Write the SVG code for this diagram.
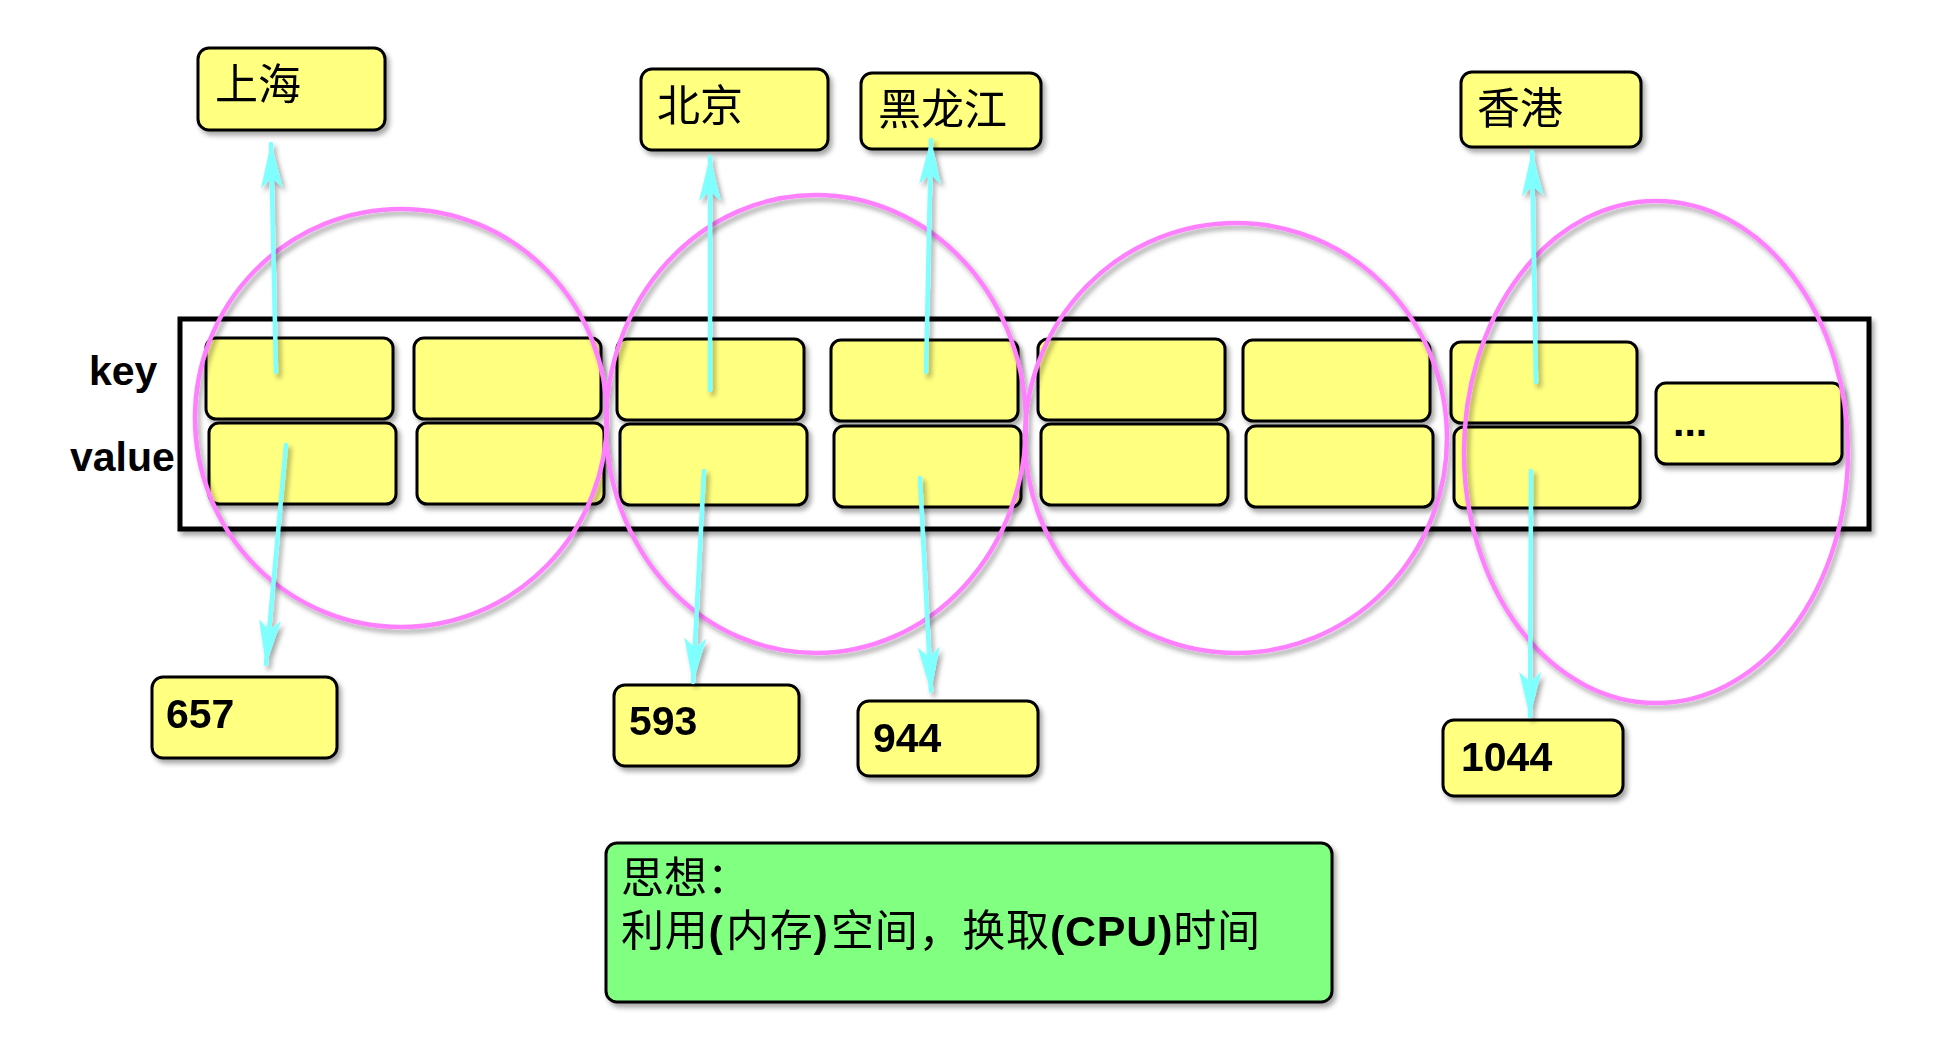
<svg xmlns="http://www.w3.org/2000/svg" width="1940" height="1053" viewBox="0 0 1940 1053">
<style>
.cell{fill:#FFFF80;stroke:#000;stroke-width:3}
.green{fill:#80FF80;stroke:#000;stroke-width:3}
.frame{fill:#fff;stroke:#000;stroke-width:5}
.ring{fill:none;stroke:#FF80FF;stroke-width:4.5}
.arr{fill:none;stroke:#80FFFF;stroke-width:4.5;stroke-linecap:round}
.cn{font-family:"Noto Sans CJK SC","Noto Sans",sans-serif;font-size:43px;fill:#000}
.num{font-family:"Liberation Sans",Arial,sans-serif;font-weight:bold;font-size:41px;fill:#000}
.b{font-family:"Liberation Sans",Arial,sans-serif;font-weight:bold}
</style>
<defs>
<filter id="sh" filterUnits="userSpaceOnUse" x="0" y="0" width="1940" height="1053">
<feDropShadow dx="3" dy="4" stdDeviation="2.5" flood-color="#000" flood-opacity="0.35"/>
</filter>
<marker id="ah" markerUnits="userSpaceOnUse" viewBox="-46 -13 48 26" markerWidth="48" markerHeight="26" refX="0" refY="0" orient="auto">
<path d="M1,0 L-44,-11 L-34,0 L-44,11 Z" fill="#80FFFF"/>
</marker>
</defs>
<rect width="1940" height="1053" fill="#fff"/>

<g id="container" filter="url(#sh)">
<rect class="frame" x="180" y="319" width="1689" height="210"/>
</g>
<g id="label-key"><text class="num" x="89" y="385">key</text></g>
<g id="label-value"><text class="num" x="70" y="471">value</text></g>

<g id="cells" filter="url(#sh)">
<g id="key-1"><rect class="cell" x="206" y="338" width="187" height="81" rx="10"/></g>
<g id="key-2"><rect class="cell" x="414" y="338" width="187" height="81" rx="10"/></g>
<g id="key-3"><rect class="cell" x="617" y="339" width="187" height="81" rx="10"/></g>
<g id="key-4"><rect class="cell" x="831" y="340" width="187" height="81" rx="10"/></g>
<g id="key-5"><rect class="cell" x="1038" y="339" width="187" height="81" rx="10"/></g>
<g id="key-6"><rect class="cell" x="1243" y="340" width="187" height="81" rx="10"/></g>
<g id="key-7"><rect class="cell" x="1451" y="342" width="186" height="81" rx="10"/></g>
<g id="value-1"><rect class="cell" x="209" y="423" width="187" height="81" rx="10"/></g>
<g id="value-2"><rect class="cell" x="417" y="423" width="187" height="81" rx="10"/></g>
<g id="value-3"><rect class="cell" x="620" y="424" width="187" height="81" rx="10"/></g>
<g id="value-4"><rect class="cell" x="834" y="426" width="187" height="81" rx="10"/></g>
<g id="value-5"><rect class="cell" x="1041" y="424" width="187" height="81" rx="10"/></g>
<g id="value-6"><rect class="cell" x="1246" y="426" width="187" height="81" rx="10"/></g>
<g id="value-7"><rect class="cell" x="1454" y="427" width="186" height="81" rx="10"/></g>
<g id="more"><rect class="cell" x="1656" y="383" width="186" height="81" rx="10"/></g>
</g>
<text class="num" x="1673" y="436" font-size="31">...</text>

<g id="rings" filter="url(#sh)">
<ellipse class="ring" cx="401" cy="418" rx="206" ry="209"/>
<ellipse class="ring" cx="816" cy="424" rx="210" ry="229"/>
<ellipse class="ring" cx="1236" cy="438" rx="211" ry="215"/>
<ellipse class="ring" cx="1656" cy="452" rx="192" ry="251"/>
</g>

<g id="label-shanghai" filter="url(#sh)"><rect class="cell" x="198" y="48" width="187" height="82" rx="11"/><text class="cn" x="215" y="100">上海</text></g>
<g id="label-beijing" filter="url(#sh)"><rect class="cell" x="641" y="69" width="187" height="81" rx="11"/><text class="cn" x="657" y="121">北京</text></g>
<g id="label-heilongjiang" filter="url(#sh)"><rect class="cell" x="861" y="73" width="180" height="76" rx="11"/><text class="cn" x="878" y="125">黑龙江</text></g>
<g id="label-hongkong" filter="url(#sh)"><rect class="cell" x="1461" y="72" width="180" height="75" rx="11"/><text class="cn" x="1477" y="124">香港</text></g>

<g id="value-657" filter="url(#sh)"><rect class="cell" x="152" y="677" width="185" height="81" rx="11"/><text class="num" x="166" y="728">657</text></g>
<g id="value-593" filter="url(#sh)"><rect class="cell" x="614" y="685" width="185" height="81" rx="11"/><text class="num" x="629" y="735">593</text></g>
<g id="value-944" filter="url(#sh)"><rect class="cell" x="858" y="701" width="180" height="75" rx="11"/><text class="num" x="873" y="752">944</text></g>
<g id="value-1044" filter="url(#sh)"><rect class="cell" x="1443" y="720" width="180" height="76" rx="11"/><text class="num" x="1461" y="771">1044</text></g>

<g id="note" filter="url(#sh)">
<rect class="green" x="606" y="843" width="726" height="159" rx="11"/>
<text class="cn" font-size="44"><tspan x="621" y="893">思想：</tspan><tspan x="621" y="946" letter-spacing="0.8">利用<tspan class="b" letter-spacing="3">(</tspan>内存<tspan class="b" letter-spacing="3">)</tspan>空间，换取<tspan class="b">(CPU)</tspan>时间</tspan></text>
</g>

<g id="connectors" filter="url(#sh)">
<path class="arr" d="M276,372 L271,144" marker-end="url(#ah)"/>
<path class="arr" d="M710,390 L710,157" marker-end="url(#ah)"/>
<path class="arr" d="M926,372 L931,140" marker-end="url(#ah)"/>
<path class="arr" d="M1536,382 L1532,152" marker-end="url(#ah)"/>
<path class="arr" d="M286,445 L266,664" marker-end="url(#ah)"/>
<path class="arr" d="M704,471 L693,682" marker-end="url(#ah)"/>
<path class="arr" d="M920,478 L931,691" marker-end="url(#ah)"/>
<path class="arr" d="M1531,471 L1530,716" marker-end="url(#ah)"/>
</g>
</svg>
